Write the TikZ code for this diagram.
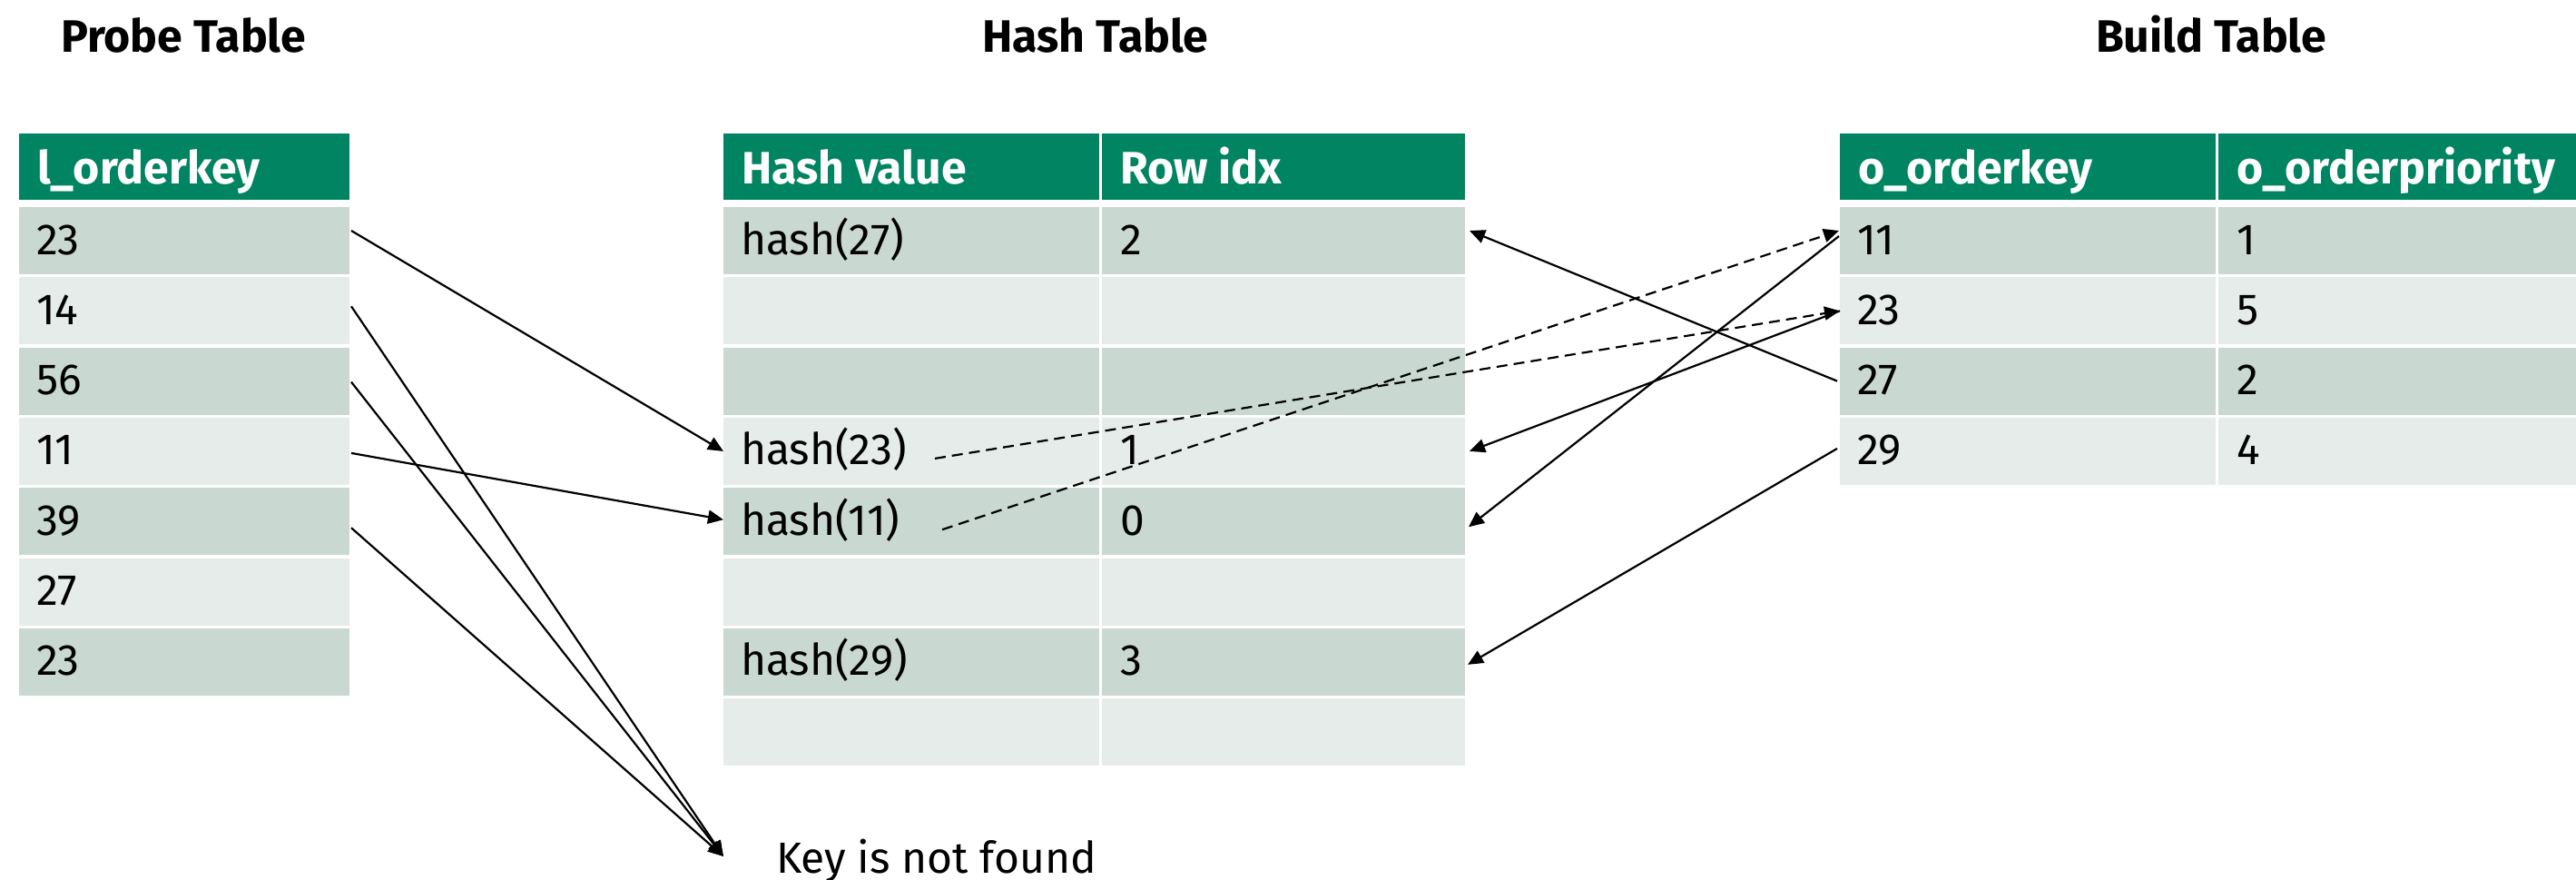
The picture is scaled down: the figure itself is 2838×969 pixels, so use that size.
\documentclass[tikz,border=0pt]{standalone}
\usepackage{fontspec}
\setmainfont{Fira Sans}
\usetikzlibrary{arrows.meta,calc}
\definecolor{hdr}{RGB}{0,132,97}
\definecolor{rowd}{RGB}{201,217,210}
\definecolor{rowl}{RGB}{229,236,233}
\begin{document}
\begin{tikzpicture}[x=1pt,y=-1pt,
  cell/.style={minimum height=74pt, inner sep=0pt, outer sep=0pt, anchor=north west, draw=none},
  dark/.style={cell, fill=rowd},
  light/.style={cell, fill=rowl},
  head/.style={cell, fill=hdr, minimum height=73pt},
  txt/.style={inner sep=0pt, outer sep=0pt, anchor=base west, font=\fontsize{48}{58}\selectfont},
  htxt/.style={txt, text=white, font=\fontsize{50}{60}\selectfont\bfseries},
  ttl/.style={inner sep=0pt, anchor=base, font=\fontsize{50}{60}\selectfont\bfseries},
  arr/.style={line width=2.2pt, -{Triangle[length=17pt,width=15pt]}},
  darr/.style={arr, dash pattern=on 12pt off 7pt}]
\useasboundingbox (0,0) rectangle (2838,969);

% titles
\node[ttl] (tp) at (202,57) {Probe Table};
\node[ttl] (th) at (1207,57) {Hash Table};
\node[ttl] (tb) at (2436,57) {Build Table};

% headers
\node[head, minimum width=364pt] (ph) at (21,147) {};
\node[head, minimum width=414pt] (hha) at (797,147) {};
\node[head, minimum width=400pt] (hhb) at (1214,147) {};
\node[head, minimum width=414pt] (bha) at (2027,147) {};
\node[head, minimum width=394pt] (bhb) at (2444,147) {};
\node[htxt] (pht) at ([shift={(20pt,-19pt)}]ph.west) {l\_orderkey};
\node[htxt] (hhat) at ([shift={(20pt,-19pt)}]hha.west) {Hash value};
\node[htxt] (hhbt) at ([shift={(20pt,-19pt)}]hhb.west) {Row idx};
\node[htxt] (bhat) at ([shift={(20pt,-19pt)}]bha.west) {o\_orderkey};
\node[htxt] (bhbt) at ([shift={(20pt,-19pt)}]bhb.west) {o\_orderpriority};

% cells
\foreach \i in {1,...,8} {
  \pgfmathsetmacro\yy{228+77.3*(\i-1)}
  \pgfmathtruncatemacro\odd{mod(\i,2)}
  \ifnum\odd=1 \def\sty{dark}\else\def\sty{light}\fi
  \ifnum\i<8 \node[\sty, minimum width=364pt] (p\i) at (21,\yy) {};\fi
  \node[\sty, minimum width=414pt] (ha\i) at (797,\yy) {};
  \node[\sty, minimum width=400pt] (hb\i) at (1214,\yy) {};
  \ifnum\i<5
    \node[\sty, minimum width=414pt] (ba\i) at (2027,\yy) {};
    \node[\sty, minimum width=394pt] (bb\i) at (2444,\yy) {};
  \fi
}

% probe texts
\foreach \v [count=\i] in {23,14,56,11,39,27,23} {
  \node[txt] (pt\i) at ([shift={(19pt,-15pt)}]p\i.west) {\v};
}
% hash texts
\node[txt] (hat1) at ([shift={(19pt,-15pt)}]ha1.west) {hash(27)};
\node[txt] (hbt1) at ([shift={(20pt,-15pt)}]hb1.west) {2};
\node[txt] (hat4) at ([shift={(19pt,-15pt)}]ha4.west) {hash(23)};
\node[txt] (hbt4) at ([shift={(20pt,-15pt)}]hb4.west) {1};
\node[txt] (hat5) at ([shift={(19pt,-15pt)}]ha5.west) {hash(11)};
\node[txt] (hbt5) at ([shift={(20pt,-15pt)}]hb5.west) {0};
\node[txt] (hat7) at ([shift={(19pt,-15pt)}]ha7.west) {hash(29)};
\node[txt] (hbt7) at ([shift={(20pt,-15pt)}]hb7.west) {3};
% build texts
\foreach \a/\b [count=\i] in {11/1,23/5,27/2,29/4} {
  \node[txt] (bat\i) at ([shift={(19pt,-15pt)}]ba\i.west) {\a};
  \node[txt] (bbt\i) at ([shift={(20pt,-15pt)}]bb\i.west) {\b};
}

% key not found
\node[txt] (key) at (855,961) {Key is not found};
\coordinate (keytip) at (797,943);

% probe arrows
\draw[arr] ([shift={(2pt,11pt)}]p1.east) -- (ha4.west);
\draw[arr] ([shift={(2pt,5pt)}]p2.east) -- (keytip);
\draw[arr] ([shift={(2pt,-1pt)}]p3.east) -- (keytip);
\draw[arr] ([shift={(2pt,-2pt)}]p4.east) -- ([yshift=2pt]ha5.west);
\draw[arr] ([shift={(2pt,-7pt)}]p5.east) -- (keytip);

% build arrows
\draw[arr] ([xshift=-3pt]ba3.west) -- ([shift={(5pt,11pt)}]hb1.east);
\draw[arr] (ba2.west) -- ([xshift=5pt]hb4.east);
\draw[arr] ([shift={(-1pt,5pt)}]ba1.west) -- ([shift={(4pt,-6pt)}]hb5.east);
\draw[arr] ([shift={(-3pt,3pt)}]ba4.west) -- ([shift={(3pt,-3pt)}]hb7.east);

% dashed
\draw[darr] ([shift={(233pt,-8pt)}]ha4.west) -- (ba2.west);
\draw[darr] ([shift={(241pt,-9pt)}]ha5.west) -- ([shift={(-1pt,11pt)}]ba1.west);
\end{tikzpicture}
\end{document}
